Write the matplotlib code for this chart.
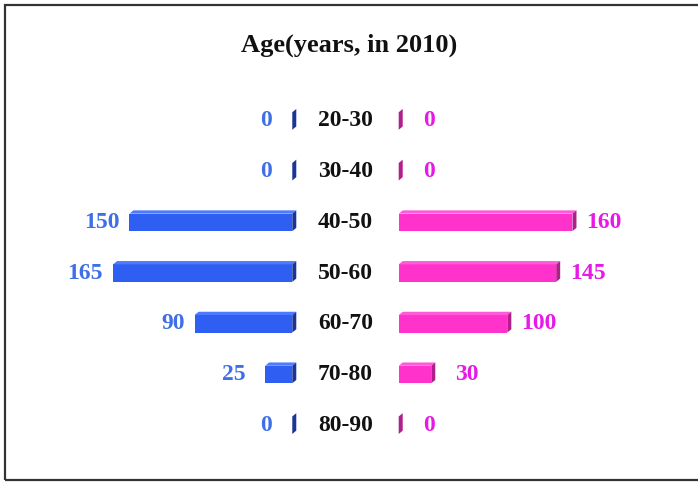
import numpy as np
import matplotlib
matplotlib.use('Agg')
import matplotlib.pyplot as plt
from matplotlib.patches import Polygon, Rectangle

# data
age_groups = ['20-30', '30-40', '40-50', '50-60', '60-70', '70-80', '80-90']
left_vals = [0, 0, 150, 165, 90, 25, 0]
right_vals = [0, 0, 160, 145, 100, 30, 0]
title = 'Age(years, in 2010)'

# look
blue = '#2f5ff2'
blue_side = '#1a3597'
blue_top = '#4d7bff'
blue_txt = '#3f6fe6'
pink = '#ff33cc'
pink_side = '#b01f8c'
pink_top = '#ff5ad8'
pink_txt = '#e619e6'
serif = ['Liberation Serif', 'DejaVu Serif']

px = 1.086          # pixels per unit
gap = 49            # half gap around labels (units)
bar_h = 0.345       # front face height (rows)
dx = 4.0 / px       # 3d depth in x (units)
dy = 0.065          # 3d depth in y (rows)

fig = plt.figure(figsize=(6.98, 4.84), dpi=100)
ax = fig.add_axes([0, 0, 1, 1])
ax.set_xlim(-345.5 / px, (698 - 345.5) / px)
ax.set_ylim((484 - 121) / 50.7, -121 / 50.7)
ax.axis('off')

y = np.arange(len(age_groups))
left_arr = np.array(left_vals)
right_arr = np.array(right_vals)


def draw_3d(ax, starts, widths, ys, front, side, top):
    ax.barh(ys, widths, left=starts, height=bar_h, color=front, zorder=2)
    for x0, w, yc in zip(starts, widths, ys):
        x1 = x0 + w
        yt = yc - bar_h / 2
        yb = yc + bar_h / 2
        ax.add_patch(Polygon([[x0, yt], [x1, yt], [x1 + dx, yt - dy], [x0 + dx, yt - dy]],
                             closed=True, facecolor=top, edgecolor='none', zorder=3))
        ax.add_patch(Polygon([[x1, yt], [x1 + dx, yt - dy], [x1 + dx, yb - dy], [x1, yb]],
                             closed=True, facecolor=side, edgecolor='none', zorder=3))


draw_3d(ax, -gap - left_arr, left_arr, y, blue, blue_side, blue_top)
draw_3d(ax, np.full(len(y), gap), right_arr, y, pink, pink_side, pink_top)


def label_off(v):
    # short bars get their labels pushed further out
    return (10 if v >= 50 else 20) / px


for i in range(len(age_groups)):
    ax.text(0, y[i], age_groups[i], ha='center', va='center', fontsize=17,
            fontweight='bold', family=serif, color='#111111')
    ax.text(-gap - left_vals[i] - label_off(left_vals[i]), y[i], str(left_vals[i]),
            ha='right', va='center', fontsize=17, fontweight='bold', family=serif,
            color=blue_txt)
    ax.text(gap + right_vals[i] + dx + label_off(right_vals[i]), y[i], str(right_vals[i]),
            ha='left', va='center', fontsize=17, fontweight='bold', family=serif,
            color=pink_txt)

fig.text(349 / 698, 1 - 45 / 484, title, ha='center', va='center', fontsize=19,
         fontweight='bold', family=serif, color='#111111')

# frame around the chart
fig.patches.append(Rectangle((5 / 698, 4 / 484), 1.05, 1 - 9 / 484, transform=fig.transFigure,
                             fill=False, edgecolor='#333333', linewidth=1.6))

plt.savefig('out.png', dpi=100)
